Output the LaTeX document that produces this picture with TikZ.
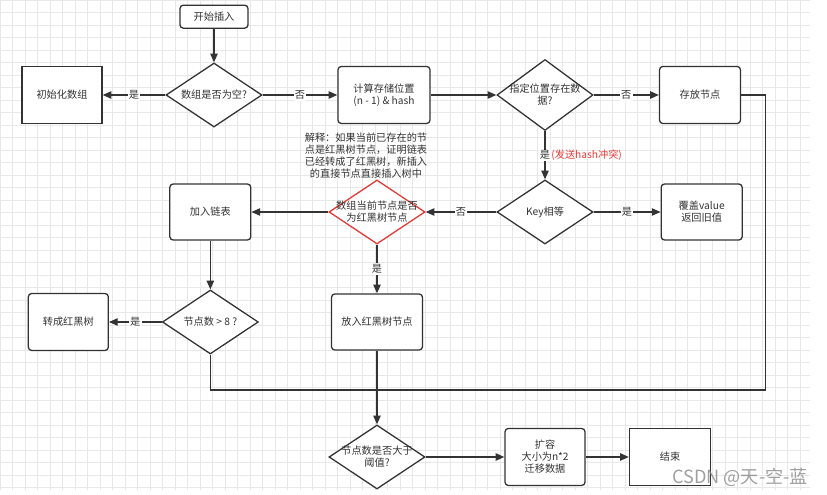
\documentclass[tikz,border=0pt]{standalone}
\usepackage{fontspec}
\newfontfamily\cjk{Noto Sans CJK SC}
\usetikzlibrary{shapes.geometric,arrows.meta}

\definecolor{inkgray}{HTML}{333333}
\definecolor{gridgray}{HTML}{E8E8E8}
\definecolor{alertred}{HTML}{E53935}

\tikzset{
  box/.style={draw=inkgray, fill=white, rectangle, rounded corners=1mm, minimum width=2.43cm, minimum height=1.71cm, align=center},
  sqbox/.style={box, sharp corners},
  decide/.style={draw=inkgray, fill=white, diamond, minimum width=2.88cm, minimum height=1.92cm, inner xsep=-6mm, inner ysep=0pt, align=center},
  tag/.style={fill=white, inner sep=1pt},
  gridline/.style={draw=gridgray, line width=0.4pt},
}

\begin{document}
\begin{tikzpicture}[node distance=5cm,>={Triangle[length=2.6mm,width=2.2mm]},line width=1.1pt,draw=inkgray,text=inkgray,font=\cjk\fontsize{8.7}{10.2}\selectfont]
        \useasboundingbox (0,0) rectangle (24.81,-14.85);
        \draw[gridline] (0,0) grid[step=0.375] (24.3,-14.7);

        \node (empty) [decide] at (6.42,-2.85) {数组是否为空?};
        \node (start) [box, minimum width=2.04cm, minimum height=0.69cm, above of=empty, yshift=-2.65cm] {开始插入};
        \node (init) [sqbox, minimum width=2.4cm, left of=empty, xshift=0.44cm] {初始化数组};
        \node (calc) [box, minimum width=2.76cm, right of=empty, xshift=0.1cm] {计算存储位置\\(n - 1) \& hash};
        \node (exists) [decide, minimum height=2.13cm, right of=calc, xshift=-0.17cm] {指定位置存在数\\据?};
        \node (store) [box, right of=exists, xshift=-0.35cm] {存放节点};
        \node (key) [decide, below of=exists, yshift=1.49cm] {Key相等};
        \node (cover) [box, minimum height=1.68cm, right of=key, xshift=-0.3cm] {覆盖value\\返回旧值};
        \node (rbcheck) [decide, draw=alertred, left of=key, xshift=-0.04cm] {数组当前节点是否\\为红黑树节点};
        \node (addlist) [box, minimum height=1.68cm, left of=rbcheck] {加入链表};
        \node (count8) [decide, below of=addlist, yshift=1.7cm] {节点数 > 8 ?};
        \node (totree) [box, minimum width=2.4cm, left of=count8, xshift=0.74cm] {转成红黑树};
        \node (putrb) [box, minimum width=2.73cm, minimum height=1.68cm, below of=rbcheck, yshift=1.7cm] {放入红黑树节点};
        \node (threshold) [decide, below of=putrb, yshift=0.95cm] {节点数是否大于\\阈值?};
        \node (resize) [box, minimum width=2.4cm, right of=threshold, xshift=0.04cm] {扩容\\大小为n*2\\迁移数据};
        \node (end) [sqbox, right of=resize, xshift=-1.25cm] {结束};
        \node (note) [above of=rbcheck, yshift=-3.3cm, xshift=-0.33cm, align=center] {解释：如果当前已存在的节\\点是红黑树节点，证明链表\\已经转成了红黑树，新插入\\的直接节点直接插入树中};
        \node (join) [coordinate, below of=putrb, yshift=2.96cm] {};

        \draw[->] (start) -- (empty);
        \draw[->] (empty) -- node[tag]{是} (init);
        \draw[->] (empty) -- node[tag]{否} (calc);
        \draw[->] (calc) -- (exists);
        \draw[->] (exists) -- node[tag]{否} (store);
        \draw[->] (exists) -- node[tag] (hit) {是} (key);
        \node (clash) [anchor=west, inner sep=0pt, xshift=-1pt, text=alertred] at (hit.east) {(发送hash冲突)};
        \draw[->] (key) -- node[tag]{是} (cover);
        \draw[->] (key) -- node[tag]{否} (rbcheck);
        \draw[->] (rbcheck) -- (addlist);
        \draw[->] (rbcheck) -- node[tag]{是} (putrb);
        \draw[->] (addlist) -- (count8);
        \draw[->] (count8) -- node[tag]{是} (totree);
        \draw[->] (putrb) -- (threshold);
        \draw[->] (threshold) -- (resize);
        \draw[->] (resize) -- (end);
        \draw (count8) |- (join);
        \draw (store.east) -- ++(0.72,0) |- (join);

        \node (mark) [text=gray, opacity=0.75, font=\cjk\fontsize{15.5}{18}\selectfont] at (22.2,-14.31) {CSDN @天-空-蓝};
    \end{tikzpicture}
\end{document}
